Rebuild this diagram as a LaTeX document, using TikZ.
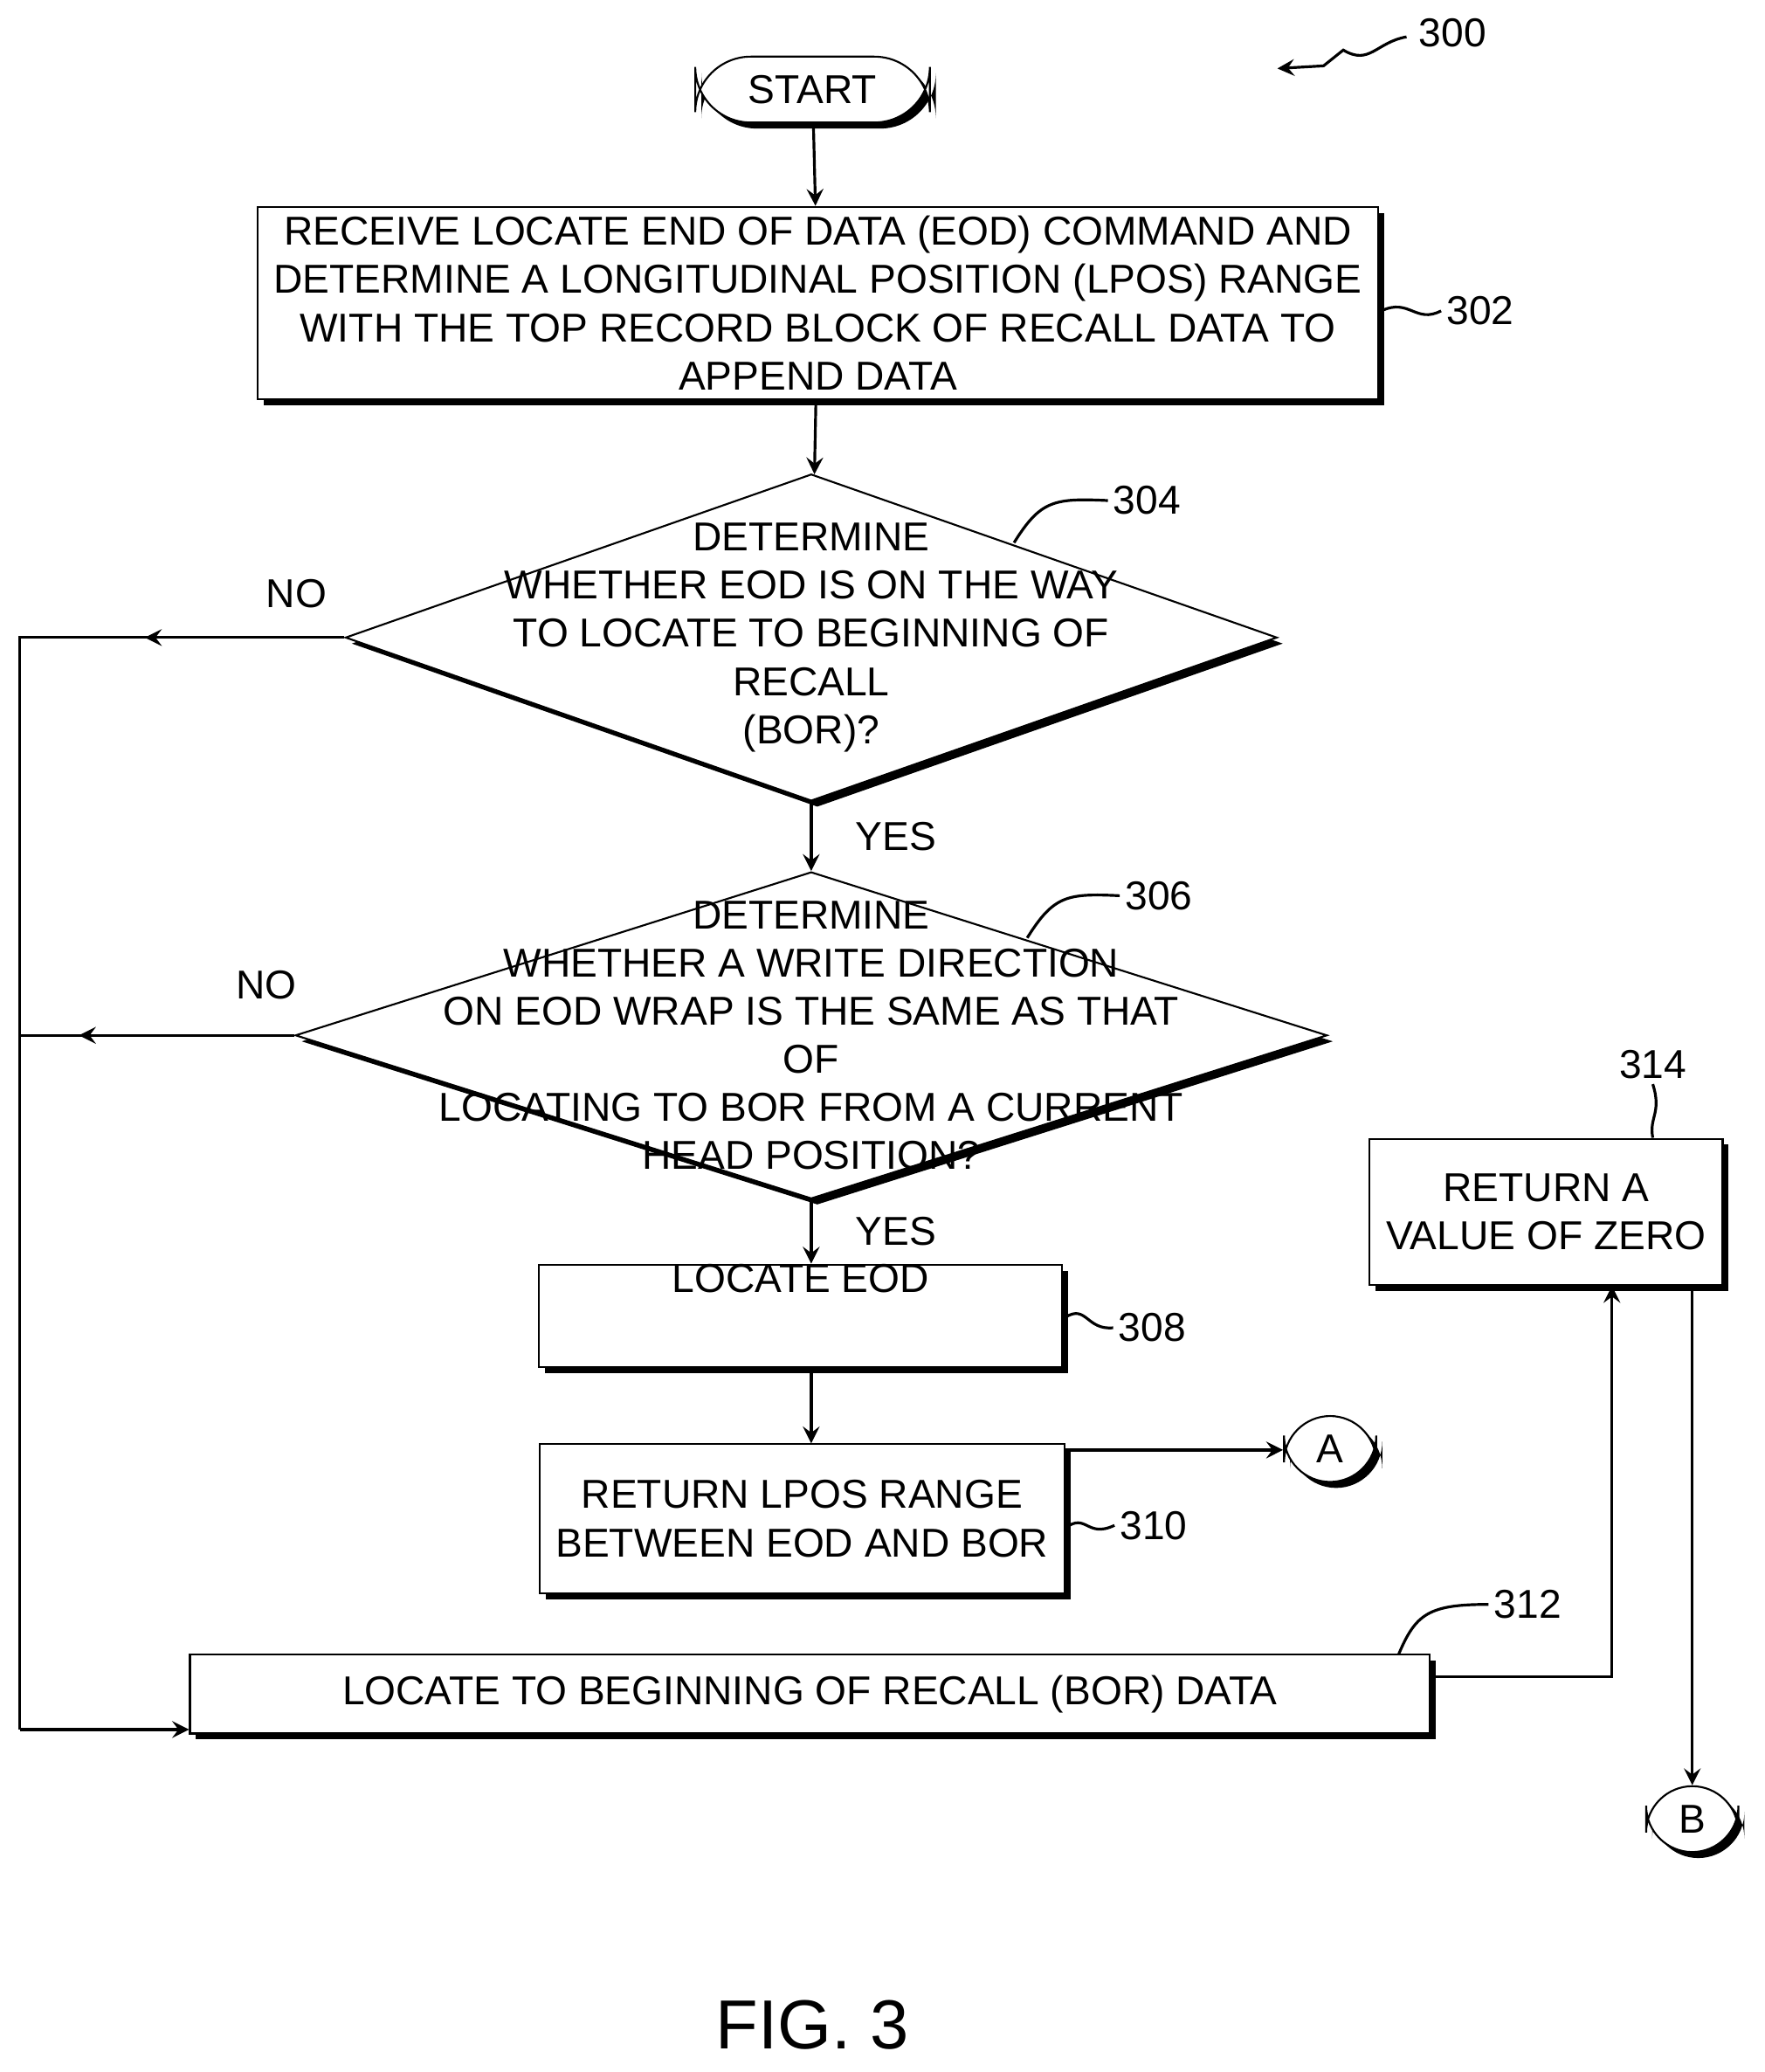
\documentclass[tikz,border=0pt]{standalone}
\usepackage{fontspec}
\setmainfont{Liberation Sans}
\usetikzlibrary{shapes.geometric, arrows, shadows}
\tikzstyle{shade} = [drop shadow={shadow xshift=1.3pt, shadow yshift=-1.3pt, fill=black, opacity=1}]
\tikzstyle{startstop} = [rectangle, rounded corners=12pt, minimum width=1.78cm, minimum height=0.5cm, text centered, draw=black, fill=white, shade]
\tikzstyle{process} = [rectangle, inner sep=0pt, text centered, align=center, draw=black, fill=white, shade]
\tikzstyle{decision} = [diamond, inner sep=0pt, draw=black, fill=white, shade]
\tikzstyle{conn} = [rectangle, rounded corners=10pt, minimum width=0.7cm, minimum height=0.5cm, draw=black, fill=white, shade]
\tikzstyle{arrow} = [semithick,->,>=stealth]
\tikzstyle{line} = [semithick]
\tikzstyle{lbl} = [inner sep=1pt]
\begin{document}
\begin{tikzpicture}[x=0.01cm, y=-0.01cm, font=\fontsize{8.7}{10.4}\selectfont]
\useasboundingbox (0,0) rectangle (1340,1573);
\node (start) [startstop] at (617,68) {START};
\node (receive) [process, minimum width=8.5cm, minimum height=1.46cm] at (621,230) {RECEIVE LOCATE END OF DATA (EOD) COMMAND AND\\DETERMINE A LONGITUDINAL POSITION (LPOS) RANGE\\WITH THE TOP RECORD BLOCK OF RECALL DATA TO\\APPEND DATA};
\node (onway) [decision, minimum width=7.07cm, minimum height=2.48cm, label={center:\parbox{5cm}{\centering DETERMINE\\WHETHER EOD IS ON THE WAY\\TO LOCATE TO BEGINNING OF\\RECALL\\(BOR)?}}] at (616,484) {};
\node (samedir) [decision, minimum width=7.83cm, minimum height=2.48cm, label={center:\parbox{6cm}{\centering DETERMINE\\WHETHER A WRITE DIRECTION\\ON EOD WRAP IS THE SAME AS THAT OF\\LOCATING TO BOR FROM A CURRENT\\HEAD POSITION?}}] at (616,786) {};
\node (loceod) [process, minimum width=3.97cm, minimum height=0.72cm] at (608,999) {LOCATE EOD\\[2mm]};
\node (range) [process, minimum width=3.98cm, minimum height=1.13cm] at (609,1153) {RETURN LPOS RANGE\\BETWEEN EOD AND BOR};
\node (locbor) [process, minimum width=9.41cm, minimum height=0.6cm] at (615,1286) {LOCATE TO BEGINNING OF RECALL (BOR) DATA};
\node (zero) [process, minimum width=2.68cm, minimum height=1.11cm] at (1174,920) {RETURN A\\VALUE OF ZERO};
\node (A) [conn] at (1010,1100) {A};
\node (B) [conn] at (1285,1381) {B};
\node (fig) at (617,1537) {\fontsize{15}{18}\selectfont FIG. 3};

% main flow
\draw [arrow] (start) -- (receive);
\draw [arrow] (receive) -- (onway);
\draw [arrow] (onway) -- node[right, xshift=6pt] {YES} (samedir);
\draw [arrow] (samedir) -- node[right, xshift=6pt] {YES} (loceod.north -| samedir.south);
\draw [arrow] (loceod.south -| samedir.south) -- (range.north -| samedir.south);
\draw [arrow] (range.north east) ++(0,5) coordinate (aout) -- (A.west |- aout);

% NO branches
\coordinate (edge1) at (15,484);
\coordinate (edge2) at (15,786);
\coordinate (edge3) at (15,1313);
\draw [line] (onway.west) -- (edge1) -- (edge3);
\draw [arrow] (onway.west) -- (110,484);
\node at (225,451) {NO};
\draw [line] (samedir.west) -- (edge2);
\draw [arrow] (samedir.west) -- (60,786);
\node at (202,748) {NO};
\draw [arrow] (edge3) -- (locbor.west |- edge3);

% to zero and B
\coordinate (bend1) at (1224,1273);
\draw [arrow] (locbor.east |- bend1) -- (bend1) -- (zero.south -| bend1);
\draw [arrow] (zero.south -| B) -- (B);

% reference numerals
\node (n300) [lbl] at (1103,25) {300};
\draw [arrow] (1068,28) .. controls (1045,32) and (1040,50) .. (1020,38) -- (1005,50) -- (970,52);
\node (n302) [lbl] at (1124,236) {302};
\draw [line] (receive.east |- n302) ++(2,0) .. controls (1070,226) and (1075,246) .. (n302.west);
\node (n304) [lbl] at (871,380) {304};
\draw [line] (770,412) .. controls (790,380) and (800,378) .. (n304.west);
\node (n306) [lbl] at (880,680) {306};
\draw [line] (780,712) .. controls (800,680) and (810,678) .. (n306.west);
\node (n308) [lbl] at (875,1008) {308};
\draw [line] (809,1000) .. controls (825,990) and (825,1010) .. (n308.west);
\node (n310) [lbl] at (876,1158) {310};
\draw [line] (809,1160) .. controls (825,1148) and (825,1168) .. (n310.west);
\node (n312) [lbl] at (1160,1218) {312};
\draw [line] (1062,1256) .. controls (1075,1225) and (1085,1218) .. (n312.west);
\node (n314) [lbl] at (1255,808) {314};
\draw [line] (n314.south) .. controls (1262,845) and (1252,848) .. (zero.north -| n314);
\end{tikzpicture}
\end{document}
